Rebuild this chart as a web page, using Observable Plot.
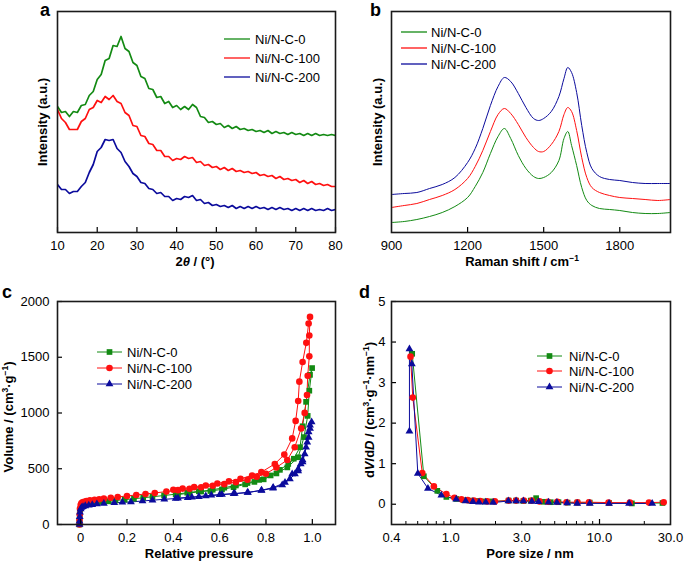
<!DOCTYPE html>
<html><head><meta charset="utf-8">
<script src="https://cdn.jsdelivr.net/npm/d3@7"></script>
<script src="https://cdn.jsdelivr.net/npm/@observablehq/plot@0.6"></script>
<style>
html,body{margin:0;padding:0;background:#fff;}
#root{position:relative;width:685px;height:563px;overflow:hidden;font-family:"Liberation Sans",Arial,sans-serif;color:#000;background:#fff;}
.pl{position:absolute;}
.lab{position:absolute;font-weight:bold;font-size:13px;white-space:nowrap;transform:translate(-50%,-50%);line-height:1;}
.rot{transform:translate(-50%,-50%) rotate(-90deg);}
.lab sup{font-size:8.5px;vertical-align:0;position:relative;top:-5px;line-height:0;}
</style></head><body><div id="root"></div>
<script>
// ---------- shared ----------
const series = ["Ni/N-C-0", "Ni/N-C-100", "Ni/N-C-200"];
const seriesColors = ["#138a13", "#ff1010", "#0b0b9c"];
const seriesSymbols = ["square", "circle", "triangle"];
const seriesDotR = [3.2, 3.3, 2.9];

// ---------- panel a : XRD ----------
const xrdAngle = [10,11,12,13,14,15,16,17,18,19,20,21,22,23,24,25,26,27,28,29,30,31,32,33,34,35,36,37,38,39,40,41,42,43,44,45,46,47,48,49,50,51,52,53,54,55,56,57,58,59,60,61,62,63,64,65,66,67,68,69,70,71,72,73,74,75,76,77,78,79,80];
const xrdNiNC0 = [126,120,121,116,121,120,127,128,137,141,153,158,172,174,187,186,196,184,181,170,167,156,154,144,143,135,136,129,131,125,127,123,126,123,128,125,116,115,110,111,108,109,105,107,104,106,103,104,102,103,101,102,100,102,99,101,99,100,98,100,98,99,97,99,97,99,97,98,97,98,97];
const xrdNiNC100 = [123,114,110,103,103,103,111,114,123,125,132,130,136,133,137,131,129,120,117,107,106,97,96,89,88,82,82,76,76,72,74,73,76,74,75,70,71,67,68,65,66,63,65,62,64,61,62,60,61,59,60,57,58,56,57,54,56,53,54,52,53,50,52,49,51,48,49,47,48,46,46];
const xrdNiNC200 = [48,43,43,39,41,41,46,50,60,68,81,85,93,92,93,84,80,71,66,59,56,50,49,44,43,39,40,36,36,32,34,33,36,35,37,32,33,29,30,27,28,26,27,25,27,24,26,24,26,24,26,24,25,23,25,23,25,23,24,22,24,22,24,22,24,22,23,22,24,22,23];
const xrdTicks = [10,20,30,40,50,60,70,80];

// ---------- panel b : Raman ----------
const ramanShift = [900,950,1000,1050,1100,1150,1200,1230,1260,1290,1320,1345,1370,1400,1430,1460,1480,1500,1530,1560,1580,1595,1610,1630,1650,1670,1690,1720,1760,1800,1850,1900,1950,2000];
const ramanNiNC0 = [10,11,13,16,20,26,35,46,60,79,96,104,94,77,64,56,54,55,60,72,94,101,87,67,45,32,27,24,23,22,20,19,19,20];
const ramanNiNC100 = [25,27,29,33,37,43,54,66,82,101,118,124,119,108,95,85,81,81,88,101,118,125,121,102,75,55,45,40,37,35,34,33,32,33];
const ramanNiNC200 = [38,39,40,44,48,55,70,84,104,127,146,155,151,139,125,114,112,114,121,136,154,165,160,140,107,80,64,56,53,52,50,49,49,49];
const ramanTicks = [900,1200,1500,1800];
const ramanMarkTicks = [1200,1500,1800];

// ---------- panel c : N2 isotherms ----------
const isoP0 = [-0.005,-0.005,-0.004,-0.002,0.002,0.006,0.012,0.02,0.035,0.05,0.07,0.09,0.12,0.15,0.19,0.23,0.27,0.31,0.36,0.41,0.46,0.51,0.56,0.61,0.66,0.71,0.75,0.79,0.845,0.892,0.939,0.964,0.980,0.987,0.999,
  0.990,0.973,0.958,0.947,0.92,0.896,0.86,0.82,0.77,0.72,0.67,0.62,0.57,0.52,0.47,0.42];
const isoV0 = [0,40,90,135,160,170,176,181,187,192,197,202,208,215,223,231,240,249,260,272,285,298,300,315,335,360,382,405,458,512,603,784,974,1200,1403,
  1342,1100,881,693,590,543,490,440,400,372,350,330,312,296,282,268];
const isoP100 = [-0.005,-0.005,-0.004,-0.003,0.0,0.003,0.008,0.015,0.025,0.04,0.06,0.08,0.1,0.13,0.16,0.2,0.24,0.28,0.32,0.37,0.42,0.47,0.52,0.57,0.62,0.67,0.72,0.76,0.8,0.845,0.892,0.924,0.952,0.967,0.977,0.98,0.987,0.987,0.990,
  0.984,0.974,0.958,0.944,0.939,0.928,0.913,0.879,0.838,0.78,0.74,0.69,0.64,0.59,0.54,0.49,0.44,0.40];
const isoV100 = [0,40,90,140,175,190,198,204,210,216,222,227,232,240,247,256,265,274,283,295,308,320,334,347,362,380,402,428,455,512,579,693,862,1001,1161,1333,1508,1695,1862,
  1803,1629,1457,1281,1107,929,772,627,543,470,440,410,387,368,350,335,322,312];
const isoP200 = [-0.005,-0.005,-0.004,-0.003,0.0,0.004,0.01,0.02,0.035,0.05,0.07,0.1,0.145,0.18,0.217,0.267,0.31,0.361,0.41,0.462,0.51,0.564,0.61,0.665,0.722,0.781,0.831,0.882,0.913,0.939,0.958,0.973,0.984,0.99,0.997,
  0.99,0.984,0.978,0.967,0.958,0.95,0.939,0.925,0.903,0.87,0.83,0.78,0.72,0.66,0.6,0.54,0.48,0.42];
const isoV200 = [0,30,70,110,140,152,160,167,173,178,183,189,196,199,202,211,218,226,233,241,250,262,270,277,286,308,331,376,452,498,579,693,780,860,920,
  890,829,738,633,560,543,480,452,407,355,325,305,288,276,266,255,245,236];
const isoXTicks = [0,0.2,0.4,0.6,0.8,1.0];
const isoYTicks = [0,500,1000,1500,2000];

// ---------- panel d : pore size distribution ----------
const poreD0 = [0.551,0.660,0.813,0.935,1.09,1.22,1.36,1.52,1.70,1.90,2.45,2.75,3.08,3.45,3.75,4.2,4.7,5.3,6.1,7.1,8.6,11.6,16.5,26.5];
const poreV0 = [3.71,0.69,0.33,0.18,0.13,0.10,0.09,0.08,0.07,0.07,0.09,0.09,0.08,0.09,0.15,0.06,0.05,0.05,0.04,0.04,0.04,0.03,0.02,0.03];
const poreD100 = [0.537,0.556,0.644,0.771,0.935,1.06,1.18,1.30,1.43,1.58,1.76,1.98,2.45,2.75,3.1,3.5,3.95,4.5,5.2,6.0,7.1,8.5,11.5,16.0,21.5,27.0];
const poreV100 = [3.64,2.63,0.77,0.44,0.25,0.16,0.12,0.10,0.09,0.08,0.07,0.07,0.09,0.09,0.09,0.09,0.07,0.06,0.06,0.05,0.05,0.05,0.04,0.04,0.04,0.05];
const poreD200 = [0.528,0.528,0.548,0.601,0.703,0.865,1.09,1.26,1.41,1.55,1.72,1.93,2.44,2.75,3.08,3.51,3.89,4.54,5.17,6.06,7.08,8.6,11.6,15.8,22.6];
const poreV200 = [1.80,3.83,3.46,0.76,0.39,0.22,0.12,0.08,0.06,0.05,0.05,0.04,0.08,0.08,0.08,0.07,0.06,0.05,0.04,0.03,0.02,0.02,0.02,0.02,0.02];
const poreLabelTicks = [0.4,1,3,10,30];
const poreMajorTicks = [1,10];
const poreMinorTicks = [0.5,0.6,0.7,0.8,0.9,2,3,4,5,6,7,8,9,20];
const poreYTicks = [0,1,2,3,4,5];

// ---------- build tables ----------
const xrdSeries = [xrdNiNC0, xrdNiNC100, xrdNiNC200];
const xrdData = series.flatMap((s, i) => xrdAngle.map((x, j) => ({x, y: xrdSeries[i][j], s})));
const ramanSeries = [ramanNiNC0, ramanNiNC100, ramanNiNC200];
const ramanData = series.flatMap((s, i) => ramanShift.map((x, j) => ({x, y: ramanSeries[i][j], s})));
const isoX = [isoP0, isoP100, isoP200], isoY = [isoV0, isoV100, isoV200];
const isoData = series.map((s, i) => isoX[i].map((x, j) => ({x, y: isoY[i][j], s})));
const poreX = [poreD0, poreD100, poreD200], poreY = [poreV0, poreV100, poreV200];
const poreData = series.map((s, i) => poreX[i].map((x, j) => ({x, y: poreY[i][j], s})));

const root = document.getElementById("root");
const FONT = '"Liberation Sans", Arial, sans-serif';
const baseStyle = {fontFamily: FONT, fontSize: "13px", color: "#000", background: "transparent", overflow: "visible"};
const frameMark = () => Plot.frame({stroke: "#1a1a1a", strokeWidth: 1.6});
const colorScale = {domain: series, range: seriesColors};

function place(el, left, top) {
  const w = document.createElement("div");
  w.className = "pl"; w.style.left = left + "px"; w.style.top = top + "px";
  w.appendChild(el); root.appendChild(w);
}

// panel a
place(Plot.plot({
  width: 342, height: 270, marginLeft: 57, marginRight: 7, marginTop: 11, marginBottom: 38,
  style: baseStyle,
  x: {domain: [10, 80], label: null},
  y: {domain: [0, 221], axis: null},
  color: colorScale,
  marks: [
    Plot.line(xrdData, {x: "x", y: "y", z: "s", stroke: "s", strokeWidth: 1.7, clip: true}),
    Plot.axisX({ticks: xrdTicks, tickSize: -5, tickPadding: 13, tickFormat: d => String(d), label: null, strokeWidth: 1.2}),
    frameMark()
  ]
}), 0, 0);

// panel b
place(Plot.plot({
  width: 343, height: 270, marginLeft: 49, marginRight: 15, marginTop: 11, marginBottom: 38,
  style: baseStyle,
  x: {domain: [900, 2000], label: null},
  y: {domain: [0, 221], axis: null},
  color: colorScale,
  marks: [
    Plot.line(ramanData, {x: "x", y: "y", z: "s", stroke: "s", strokeWidth: 1, curve: "catmull-rom", clip: true}),
    Plot.axisX({ticks: ramanTicks, tickSize: 0, tickPadding: 8, tickFormat: d => String(d), label: null}),
    Plot.axisX({ticks: ramanMarkTicks, tickSize: -5, fill: "none", label: null, strokeWidth: 1.2}),
    frameMark()
  ]
}), 342, 0);

// panel c
const isoMarks = [];
isoData.forEach((d, i) => {
  isoMarks.push(Plot.line(d, {x: "x", y: "y", stroke: seriesColors[i], strokeWidth: 1}));
});
isoData.forEach((d, i) => {
  isoMarks.push(Plot.dot(d, {x: "x", y: "y", fill: seriesColors[i], symbol: seriesSymbols[i], r: seriesDotR[i], stroke: "none"}));
});
place(Plot.plot({
  width: 342, height: 293, marginLeft: 57, marginRight: 7, marginTop: 31, marginBottom: 39,
  style: baseStyle,
  x: {domain: [-0.1, 1.1], label: null},
  y: {domain: [0, 2000], label: null},
  marks: [
    ...isoMarks,
    Plot.axisX({ticks: isoXTicks, tickSize: -5, tickPadding: 13, tickFormat: d => d === 0 ? "0" : d.toFixed(1), label: null, strokeWidth: 1.2}),
    Plot.axisY({ticks: isoYTicks, tickSize: -5, tickPadding: 13, tickFormat: d => String(d), label: null, strokeWidth: 1.2}),
    frameMark()
  ]
}), 0, 270);

// panel d
const poreMarks = [];
poreData.forEach((d, i) => {
  poreMarks.push(Plot.line(d, {x: "x", y: "y", stroke: seriesColors[i], strokeWidth: 1}));
});
poreData.forEach((d, i) => {
  poreMarks.push(Plot.dot(d, {x: "x", y: "y", fill: seriesColors[i], symbol: seriesSymbols[i], r: seriesDotR[i], stroke: "none"}));
});
place(Plot.plot({
  width: 343, height: 293, marginLeft: 49, marginRight: 15, marginTop: 31, marginBottom: 39,
  style: baseStyle,
  x: {type: "log", domain: [0.4, 30], label: null},
  y: {domain: [-0.5, 5], label: null},
  marks: [
    ...poreMarks,
    Plot.axisX({ticks: poreLabelTicks, tickSize: 0, tickPadding: 8, tickFormat: d3.format(".1f"), label: null}),
    Plot.axisX({ticks: poreMajorTicks, tickSize: -5, fill: "none", label: null, strokeWidth: 1.2}),
    Plot.axisX({ticks: poreMinorTicks, tickSize: -3, fill: "none", label: null, strokeWidth: 1}),
    Plot.axisY({ticks: poreYTicks, tickSize: -5, tickPadding: 11, tickFormat: d => String(d), label: null, strokeWidth: 1.2}),
    frameMark()
  ]
}), 342, 270);

// ---------- axis titles ----------
function label(html, cx, cy, rotate) {
  const d = document.createElement("div");
  d.className = "lab" + (rotate ? " rot" : "");
  d.style.left = cx + "px"; d.style.top = cy + "px";
  d.innerHTML = html; root.appendChild(d);
}
label("2<i>θ</i> / (°)", 195, 261);
label("Raman shift / cm<sup>−1</sup>", 522, 261);
label("Relative pressure", 199, 553);
label("Pore size / nm", 530, 553);
label("Intensity (a.u.)", 42, 122, true);
label("Intensity (a.u.)", 377, 122, true);
label("Volume / (cm<sup>3</sup>·g<sup>−1</sup>)", 8, 417, true);
label("d<i>V</i>/d<i>D</i> / (cm<sup>3</sup>·g<sup>−1</sup>·nm<sup>−1</sup>)", 369, 410, true);

// ---------- overlay: panel letters and legends ----------
const svg = d3.select(root).append("svg")
  .attr("width", 685).attr("height", 563)
  .style("position", "absolute").style("left", 0).style("top", 0)
  .style("pointer-events", "none")
  .style("font-family", FONT);

[["a", 40, 16], ["b", 370, 16], ["c", 2, 298], ["d", 359, 298]].forEach(([t, x, y]) => {
  svg.append("text").attr("x", x).attr("y", y).attr("font-size", 18).attr("font-weight", "bold").text(t);
});

function legend(x1, x2, tx, rows, withMarker) {
  series.forEach((s, i) => {
    const y = rows[i];
    svg.append("line").attr("x1", x1).attr("x2", x2).attr("y1", y).attr("y2", y)
      .attr("stroke", seriesColors[i]).attr("stroke-width", withMarker ? 1 : 1.3);
    if (withMarker) {
      const sym = [d3.symbolSquare, d3.symbolCircle, d3.symbolTriangle][i];
      const r = seriesDotR[i];
      svg.append("path").attr("d", d3.symbol(sym, Math.PI * r * r)())
        .attr("transform", `translate(${(x1 + x2) / 2},${y})`).attr("fill", seriesColors[i]);
    }
    svg.append("text").attr("x", tx).attr("y", y).attr("dy", "0.35em").attr("font-size", 13).text(s);
  });
}
legend(224, 250, 255, [39, 58, 77], false);
legend(401, 427, 431, [32, 48, 64], false);
legend(97, 122, 127, [352, 368, 384], true);
legend(537, 562, 569, [356, 371, 387], true);
</script></body></html>
